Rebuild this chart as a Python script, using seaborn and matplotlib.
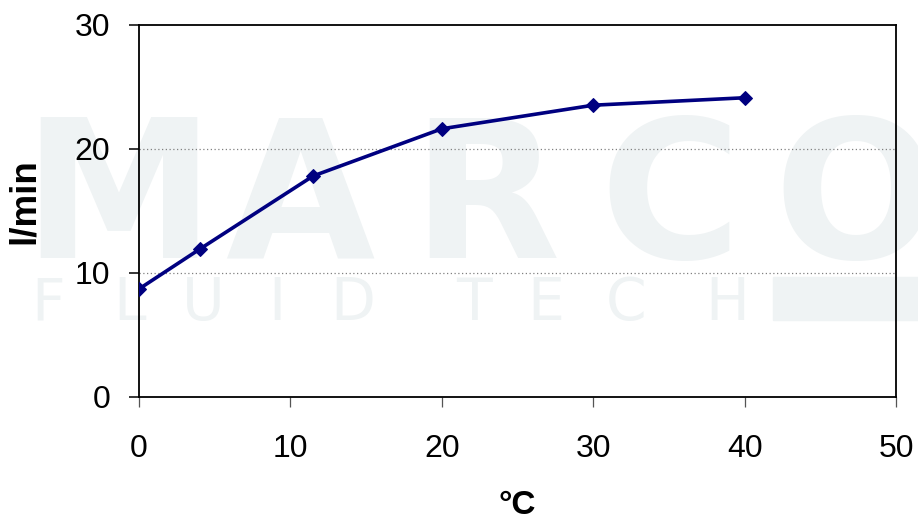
import matplotlib
matplotlib.use("Agg")
import matplotlib.pyplot as plt
import seaborn as sns
import pandas as pd
import numpy as np

# Data
temperature_c = [0, 4, 11.5, 20, 30, 40]
flow_lpm = [8.7, 11.9, 17.8, 21.6, 23.5, 24.1]
x_ticks = [0, 10, 20, 30, 40, 50]
y_ticks = [0, 10, 20, 30]

sns.set_theme(style="white")
plt.rcParams['font.family'] = ['Liberation Sans', 'DejaVu Sans']

W, H = 918, 521

# Background logo watermark, rendered as a picture
wm_color = "#eff3f4"
wm = plt.figure(figsize=(W / 100, H / 100), dpi=100, facecolor="white")
for ch, cx in zip("MARCO", [118, 300, 486, 670, 855]):
    wm.text(cx / W, 1 - 258 / H, ch, ha="center", va="baseline",
            fontsize=139, fontweight="bold", color=wm_color, family="DejaVu Sans")
for ch, cx in zip("FLUIDTECH", [48, 130, 203, 277, 353, 474, 546, 626, 727]):
    wm.text(cx / W, 1 - 320 / H, ch, ha="center", va="baseline",
            fontsize=42, fontweight="normal", color=wm_color, family="DejaVu Sans")
wm.patches.append(plt.Rectangle((773 / W, 1 - 320 / H), (918 - 773) / W, 43 / H,
                                transform=wm.transFigure, color=wm_color))
wm.canvas.draw()
wm_img = np.asarray(wm.canvas.buffer_rgba()).copy()
plt.close(wm)

fig = plt.figure(figsize=(W / 100, H / 100), dpi=100, facecolor="white")
fig.figimage(wm_img, 0, 0, origin="upper", zorder=-5)

ax = fig.add_axes([139 / W, 1 - 397 / H, (896 - 139) / W, (397 - 24.5) / H])
ax.patch.set_alpha(0)

df = pd.DataFrame({"°C": temperature_c, "l/min": flow_lpm})
sns.lineplot(data=df, x="°C", y="l/min", ax=ax, color="#000080", linewidth=2.6,
             marker="D", markersize=7.5, markeredgecolor="#000080", zorder=5)

ax.set_xlim(0, 50)
ax.set_ylim(0, 30)
ax.set_xticks(x_ticks)
ax.set_yticks(y_ticks)
ax.set_xticklabels([str(v) for v in x_ticks])
ax.set_yticklabels([str(v) for v in y_ticks])

for yv in y_ticks[1:-1]:
    ax.axhline(yv, color="#808080", linewidth=0.9, linestyle=(0, (1, 2)), zorder=1)

for s in ax.spines.values():
    s.set_visible(True)
    s.set_color("black")
    s.set_linewidth(1.3)

ax.tick_params(axis="y", which="major", direction="out", length=7.2, width=1.1,
               color="black", left=True, pad=13.5, labelsize=23, labelcolor="black")
ax.tick_params(axis="x", which="major", direction="out", length=7.2, width=0.9,
               color="#555555", bottom=True, pad=19.5, labelsize=23, labelcolor="black")

ax.set_xlabel("°C", fontsize=24, fontweight="bold", color="black")
ax.set_ylabel("l/min", fontsize=26.5, fontweight="bold", color="black")
ax.xaxis.label.set_verticalalignment("center")
ax.yaxis.label.set_verticalalignment("center")
ax.xaxis.set_label_coords((517 - 139) / 757, (397 - 505) / 372.5)
ax.yaxis.set_label_coords((24.5 - 139) / 757, (397 - 201) / 372.5)

fig.savefig("out.png", dpi=100, facecolor="white")
